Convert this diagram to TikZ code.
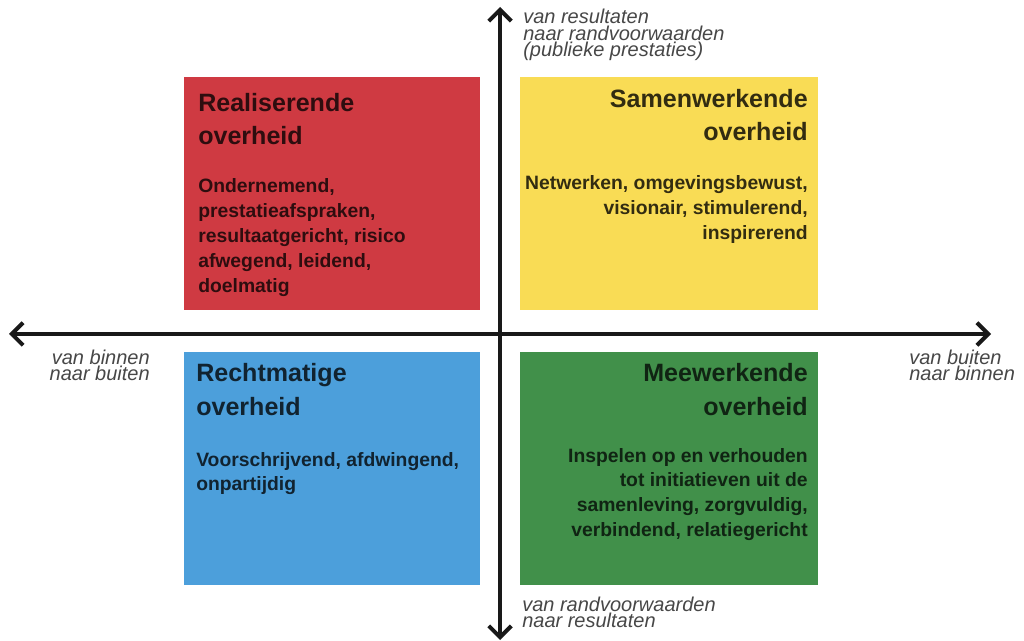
\documentclass[tikz,border=0pt]{standalone}
\usepackage{fontspec}
\setmainfont{Liberation Sans}
\usetikzlibrary{arrows.meta}
\definecolor{qred}{HTML}{CF3A42}
\definecolor{qyellow}{HTML}{F9DC55}
\definecolor{qblue}{HTML}{4C9FDB}
\definecolor{qgreen}{HTML}{41904A}
\newcommand\linesL[1]{\vtop{\lineskiplimit=-100pt\halign{##\hfil\cr#1\crcr}}}
\newcommand\linesR[1]{\vtop{\lineskiplimit=-100pt\halign{\hfil##\cr#1\crcr}}}
\tikzset{
  quad/.style={inner sep=0pt, outer sep=0pt, anchor=north west, minimum width=222pt, minimum height=174.75pt},
  ttl/.style={inner sep=0pt, font=\fontsize{18.8pt}{24.75pt}\selectfont\bfseries},
  bdy/.style={inner sep=0pt, font=\fontsize{14.5pt}{18.6pt}\selectfont\bfseries},
  lbl/.style={inner sep=0pt, text=black!72, font=\fontsize{15pt}{12.3pt}\selectfont\itshape},
  axis/.style={line width=3pt, black!90, {Straight Barb[length=8.5pt,width=17pt]}-{Straight Barb[length=8.5pt,width=17pt]}}
}
\begin{document}
\begin{tikzpicture}[x=0.75pt,y=-0.75pt]
\useasboundingbox (0,0) rectangle (1024,641);
% axes
\coordinate (L) at (9,334);
\coordinate (R) at (991,334);
\coordinate (T) at (500,7);
\coordinate (B) at (500,640);
\draw[axis] (L) -- (R);
\draw[axis] (T) -- (B);
% quadrants
\node[quad, fill=qred] (red) at (184,77) {};
\node[quad, fill=qyellow, minimum width=223.5pt] (yellow) at (520,77) {};
\node[quad, fill=qblue] (blue) at (184,352) {};
\node[quad, fill=qgreen, minimum width=223.5pt] (green) at (520,352) {};
% red
\node[ttl, anchor=base west, text=qred!22!black] (redt) at (198,112) {\linesL{Realiserende\cr overheid}};
\node[bdy, anchor=base west, text=qred!22!black] (redb) at (198,193) {\linesL{Ondernemend,\cr prestatieafspraken,\cr resultaatgericht, risico\cr afwegend, leidend,\cr doelmatig}};
% yellow
\node[ttl, anchor=base east, text=qyellow!20!black] (yelt) at (808,108) {\linesR{Samenwerkende\cr overheid}};
\node[bdy, anchor=base east, text=qyellow!20!black] (yelb) at (808,190) {\linesR{Netwerken, omgevingsbewust,\cr visionair, stimulerend,\cr inspirerend}};
% blue
\node[ttl, anchor=base west, text=qblue!22!black] (blut) at (196,382) {\linesL{Rechtmatige\cr overheid}};
\node[bdy, anchor=base west, text=qblue!22!black] (blub) at (196,466) {\linesL{Voorschrijvend, afdwingend,\cr onpartijdig}};
% green
\node[ttl, anchor=base east, text=qgreen!25!black] (grnt) at (808,382) {\linesR{Meewerkende\cr overheid}};
\node[bdy, anchor=base east, text=qgreen!25!black] (grnb) at (808,462) {\linesR{Inspelen op en verhouden\cr tot initiatieven uit de\cr samenleving, zorgvuldig,\cr verbindend, relatiegericht}};
% axis labels
\node[lbl, anchor=base west] (top) at (523,24) {\linesL{van resultaten\cr naar randvoorwaarden\cr (publieke prestaties)}};
\node[lbl, anchor=base west] (bot) at (522,611) {\linesL{van randvoorwaarden\cr naar resultaten}};
\node[lbl, anchor=base east] (lft) at (150,364) {\linesR{van binnen\cr naar buiten}};
\node[lbl, anchor=base west] (rgt) at (909,364) {\linesL{van buiten\cr naar binnen}};
\end{tikzpicture}
\end{document}
